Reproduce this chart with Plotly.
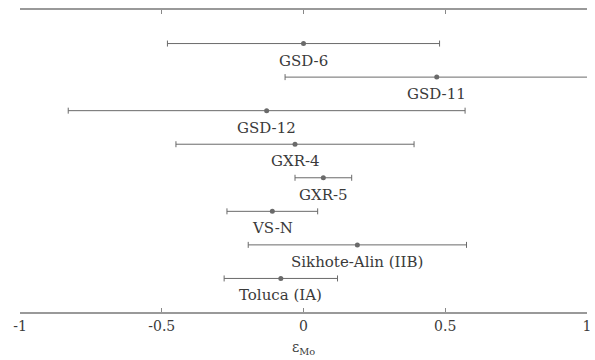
import plotly.graph_objects as go

samples = ["GSD-6", "GSD-11", "GSD-12", "GXR-4", "GXR-5", "VS-N",
           "Sikhote-Alin (IIB)", "Toluca (IA)"]
eps_mo = [0.00, 0.47, -0.13, -0.03, 0.07, -0.11, 0.19, -0.08]
err = [0.48, 0.535, 0.70, 0.42, 0.10, 0.16, 0.385, 0.20]
rows = list(range(1, len(samples) + 1))
tick_vals = [-1, -0.5, 0, 0.5, 1]
tick_text = ["-1", "-0.5", "0", "0.5", "1"]

font_family = "DejaVu Serif"
line_col = "#6a6a6a"
text_col = "#3a3a3a"

fig = go.Figure()
fig.add_trace(go.Scatter(
    x=eps_mo, y=rows, mode="markers",
    marker=dict(size=5, color=line_col),
    error_x=dict(type="data", array=err, visible=True,
                 thickness=1, width=3, color=line_col),
    showlegend=False, hoverinfo="skip", cliponaxis=False,
))

for name, xv, yv in zip(samples, eps_mo, rows):
    fig.add_annotation(x=xv, y=yv, text=name, showarrow=False,
                       xref="x", yref="y", yshift=-17, yanchor="middle",
                       font=dict(family=font_family, size=15, color=text_col))

fig.update_layout(
    width=595, height=360,
    margin=dict(l=20, r=8, t=10, b=48),
    paper_bgcolor="white", plot_bgcolor="white",
    xaxis=dict(range=[-1.0001, 1.0001], tickvals=tick_vals, ticktext=tick_text,
               automargin=False,
               showline=True, linecolor="#999999", linewidth=1.5,
               mirror="ticks", ticks="inside", ticklen=4, tickwidth=1,
               tickcolor="#888888", showgrid=False, zeroline=False,
               tickfont=dict(family=font_family, size=14, color=text_col),
               title=dict(text="ε<sub>Mo</sub>", standoff=10,
                          font=dict(family=font_family, size=14, color=text_col))),
    yaxis=dict(range=[9, 0], visible=False, showgrid=False, zeroline=False,
               automargin=False),
)

fig.write_html("out.html", config={"displayModeBar": False},
               post_script="document.body.style.margin='0px';document.body.style.overflow='hidden';")
